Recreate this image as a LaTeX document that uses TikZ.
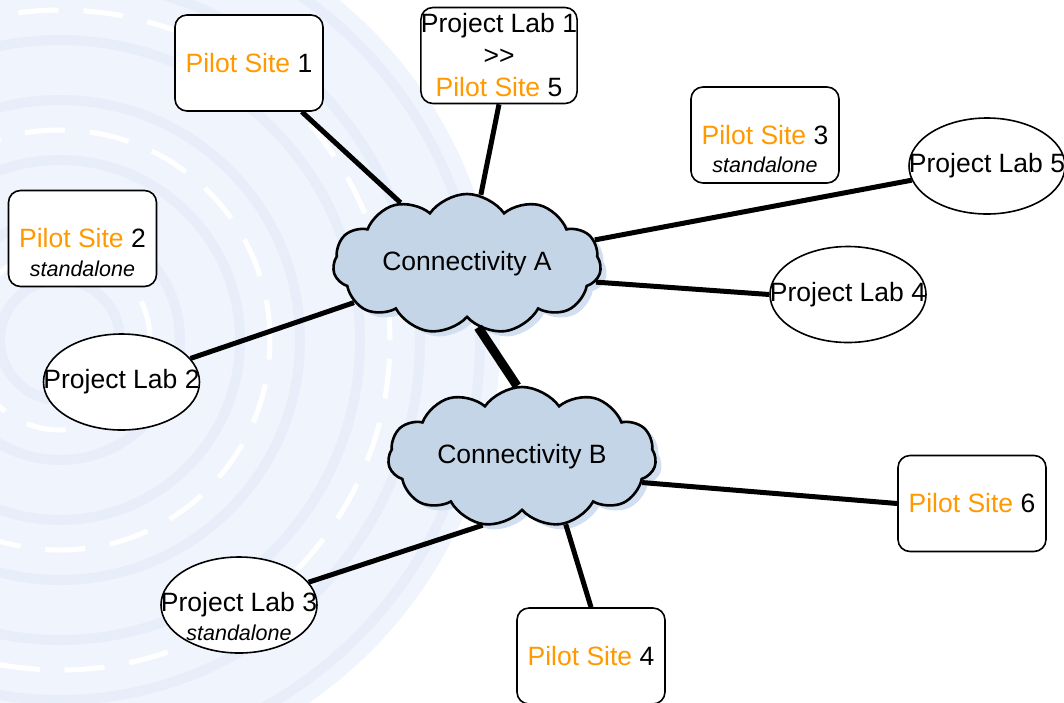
\documentclass[tikz,border=0pt]{standalone}
\usepackage{fontspec}
\setmainfont{Liberation Sans}
\usetikzlibrary{shapes.geometric,shapes.symbols,shadows}
\definecolor{siteorange}{RGB}{255,153,0}
\definecolor{cloudblue}{RGB}{197,213,232}
\definecolor{shadeblue}{RGB}{210,223,240}
\definecolor{markblue}{RGB}{240,245,253}
\definecolor{markline}{RGB}{231,238,250}
\newcommand{\site}{\textcolor{siteorange}{Pilot Site}}

\begin{document}
\begin{tikzpicture}[x=1pt, y=-1pt, font=\fontsize{26.5}{30}\selectfont,
	site/.style={draw, line width=1.6pt, rounded corners=12pt, fill=white, minimum width=148pt, minimum height=96pt, inner sep=0pt},
	lab/.style={draw, ellipse, line width=1.6pt, fill=white, minimum width=156pt, minimum height=96pt, inner sep=0pt},
	net/.style={cloud, cloud puffs=11, cloud puff arc=110, aspect=1.9, draw, line width=2.6pt, fill=cloudblue, minimum width=268pt, minimum height=140pt, drop shadow={fill=shadeblue, shadow xshift=6pt, shadow yshift=-5pt, opacity=1}},
	link/.style={line width=5pt},
	note/.style={font=\fontsize{21.5}{24}\selectfont\itshape}]
\useasboundingbox (0,0) rectangle (1064,702);
% faint medallion behind the left half
\begin{scope}
	\clip (0,0) rectangle (1064,702);
	\fill[markblue] (60,340) circle (440pt);
	\foreach \r in {60,120,...,420}
		\draw[markline, line width=10pt] (60,340) circle (\r pt);
	\foreach \r in {90,210,330}
		\draw[white, line width=5pt, dash pattern=on 40pt off 25pt] (60,340) circle (\r pt);
\end{scope}

% networks
\node[net, label=center:Connectivity A] (A) at (467,264) {};
\node[net, label=center:Connectivity B] (B) at (522,457) {};

% sites and labs
\node[site] (ps1) at (249,63) {\site\ 1};
\node[site, label={[note, label distance=-30pt]below:standalone}] (ps2) at (82.5,238.5) {\site\ 2};
\node[site, label={[note, label distance=-30pt]below:standalone}] (ps3) at (765,135) {\site\ 3};
\node[site] (ps4) at (591,656) {\site\ 4};
\node[site] (ps6) at (972,503.5) {\site\ 6};
\node[site, minimum width=156pt, align=center, font=\fontsize{26.5}{32}\selectfont] (pl1) at (499,55.5) {Project Lab 1\\>\kern0pt>\\\site\ 5};
\node[lab, label=center:Project Lab 2] (pl2) at (121.5,382) {};
\node[lab, label=center:Project Lab 3, label={[note, label distance=-32pt]below:standalone}] (pl3) at (239,605) {};
\node[lab, label=center:Project Lab 4] (pl4) at (848,294.5) {};
\node[lab, label=center:Project Lab 5] (pl5) at (987,166) {};

% links
\draw[link] (ps1)--(A);
\draw[link] (pl1.south)--(A);
\draw[link] (A)--(pl5);
\draw[link] (A.-8)--(pl4.west);
\draw[link] (A)--(pl2);
\draw[line width=9pt] (A.-80)--(B.94);
\draw[link] (B.-12)--(ps6.west);
\draw[link] (B.-57)--(ps4.north);
\draw[link] (B.-120)--(pl3);

\end{tikzpicture}
\end{document}
